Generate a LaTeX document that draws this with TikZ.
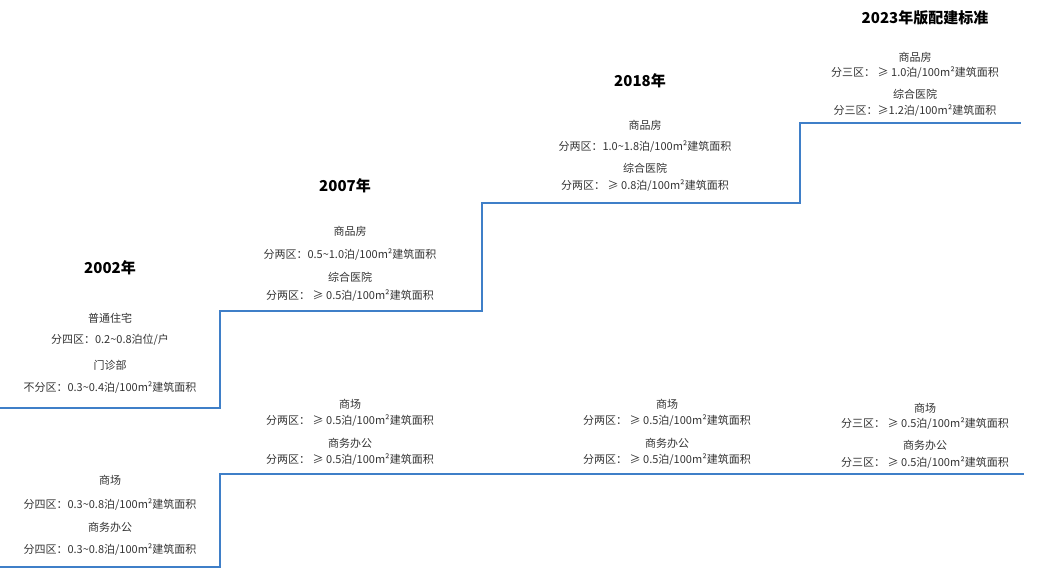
\documentclass[tikz,border=0pt]{standalone}
\usepackage{fontspec}
\setmainfont{Noto Sans CJK SC}
\usetikzlibrary{positioning}
\definecolor{stepblue}{HTML}{3F7FC8}
\definecolor{txtgray}{HTML}{333333}
\begin{document}
\begin{tikzpicture}[x=1pt,y=-1pt,
  year/.style={font=\fontsize{15}{18}\selectfont\bfseries, text=black},
  item/.style={font=\fontsize{11}{13}\selectfont, text=txtgray, inner sep=0pt},
  stair/.style={stepblue, line width=1.3pt},
]
  \useasboundingbox (0,0) rectangle (1039,568);

  % years
  \node[year] (y02) at (110,268) {2002年};
  \node[year] (y07) at (345,186) {2007年};
  \node[year] (y18) at (640,81) {2018年};
  \node[year] (y23) at (925,18) {2023年版配建标准};

  % upper row: residential / hospital
  \node[item] (r02a) at (110,318) {普通住宅};
  \node[item] (r02b) at (110,340) {分四区：0.2\textasciitilde0.8泊位/户};
  \node[item] (r02c) at (110,365) {门诊部};
  \node[item] (r02d) at (110,388) {不分区：0.3\textasciitilde0.4泊/100m²建筑面积};

  \node[item] (r07a) at (350,231) {商品房};
  \node[item] (r07b) at (350,255) {分两区：0.5\textasciitilde1.0泊/100m²建筑面积};
  \node[item] (r07c) at (350,277) {综合医院};
  \node[item] (r07d) at (350,296) {分两区： ≥ 0.5泊/100m²建筑面积};

  \node[item] (r18a) at (645,125) {商品房};
  \node[item] (r18b) at (645,147) {分两区：1.0\textasciitilde1.8泊/100m²建筑面积};
  \node[item] (r18c) at (645,168) {综合医院};
  \node[item] (r18d) at (645,186) {分两区： ≥ 0.8泊/100m²建筑面积};

  \node[item] (r23a) at (915,57) {商品房};
  \node[item] (r23b) at (915,73) {分三区： ≥ 1.0泊/100m²建筑面积};
  \node[item] (r23c) at (915,94) {综合医院};
  \node[item] (r23d) at (915,111) {分三区：≥1.2泊/100m²建筑面积};

  % lower row: mall / office
  \node[item] (c02a) at (110,480) {商场};
  \node[item] (c02b) at (110,505) {分四区：0.3\textasciitilde0.8泊/100m²建筑面积};
  \node[item] (c02c) at (110,527) {商务办公};
  \node[item] (c02d) at (110,550) {分四区：0.3\textasciitilde0.8泊/100m²建筑面积};

  \node[item] (c07a) at (350,404) {商场};
  \node[item] (c07b) at (350,421) {分两区： ≥ 0.5泊/100m²建筑面积};
  \node[item] (c07c) at (350,443) {商务办公};
  \node[item] (c07d) at (350,460) {分两区： ≥ 0.5泊/100m²建筑面积};

  \node[item] (c18a) at (667,404) {商场};
  \node[item] (c18b) at (667,421) {分两区： ≥ 0.5泊/100m²建筑面积};
  \node[item] (c18c) at (667,443) {商务办公};
  \node[item] (c18d) at (667,460) {分两区： ≥ 0.5泊/100m²建筑面积};

  \node[item] (c23a) at (925,408) {商场};
  \node[item] (c23b) at (925,424) {分三区： ≥ 0.5泊/100m²建筑面积};
  \node[item] (c23c) at (925,445) {商务办公};
  \node[item] (c23d) at (925,463) {分三区： ≥ 0.5泊/100m²建筑面积};

  % staircases
  \draw[stair] (0,408) -- (220,408) -- (220,311) -- (482,311) -- (482,203)
    -- (800,203) -- (800,123) -- (1021,123);
  \draw[stair] (0,567) -- (220,567) -- (220,474) -- (1024,474);
\end{tikzpicture}
\end{document}
